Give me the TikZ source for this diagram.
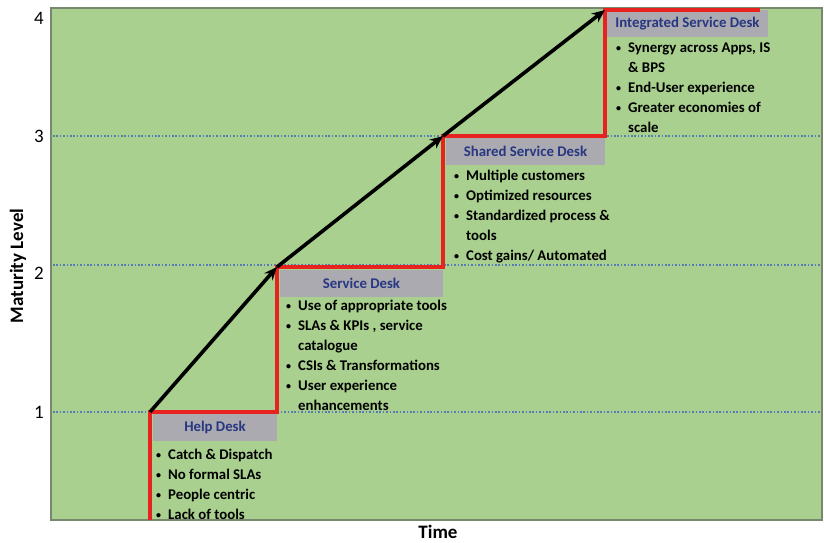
\documentclass[tikz,border=0pt]{standalone}
\usepackage{fontspec}
\setmainfont{Carlito}
\usetikzlibrary{arrows.meta}
\definecolor{plotgreen}{RGB}{169,208,142}
\definecolor{framegray}{RGB}{120,135,110}
\definecolor{stepred}{RGB}{232,34,30}
\definecolor{levelblue}{RGB}{85,125,180}
\definecolor{titlegray}{RGB}{170,170,176}
\definecolor{titleblue}{RGB}{40,55,130}
\tikzset{
  plotarea/.style={fill=plotgreen, draw=framegray, line width=1.4pt},
  levelline/.style={levelblue, line width=2.4pt, dash pattern=on 1.6pt off 1.8pt},
  stepline/.style={stepred, line width=3.2pt},
  growth/.style={black, line width=3.6pt, -{Stealth[length=13pt,width=11pt]}},
  stagetitle/.style={fill=titlegray, text=titleblue, inner sep=0pt, font=\fontsize{14.8}{16}\selectfont\bfseries},
  stagelist/.style={inner sep=0pt, anchor=base west, align=left, font=\fontsize{14.8}{20}\selectfont\bfseries},
  levelnum/.style={font=\fontsize{19}{20}\selectfont},
  axistitle/.style={font=\fontsize{19}{20}\selectfont\bfseries}
}
\newcommand{\stagebullets}[1]{\begin{tabular}[t]{@{}l@{\hspace{7pt}}l@{}}#1\end{tabular}}
\newcommand{\dotmark}{\raisebox{1pt}{\fontsize{10}{10}\selectfont\textbullet}}
\begin{document}
\begin{tikzpicture}[x=1pt,y=-1pt]
\useasboundingbox (0,0) rectangle (824,542);

% plot area
\draw[plotarea] (51,8) rectangle (822,520);

% maturity level guide lines
\foreach \yy in {136,265,412}
  \draw[levelline] (53,\yy) -- (821,\yy);

% level numbers and axis titles
\node[levelnum] (l4) at (39,18) {4};
\node[levelnum] (l3) at (39,136) {3};
\node[levelnum] (l2) at (39,273) {2};
\node[levelnum] (l1) at (39,412) {1};
\node[axistitle, rotate=90] (ylab) at (18,266) {Maturity Level};
\node[axistitle] (xlab) at (438,532) {Time};

% stage title bars
\node[stagetitle, minimum width=124pt, minimum height=27pt] (t1) at (215,427) {Help Desk};
\node[stagetitle, minimum width=163pt, minimum height=27pt] (t2) at (361.5,283) {Service Desk};
\node[stagetitle, minimum width=159pt, minimum height=27pt] (t3) at (525.5,151.5) {Shared Service Desk};
\node[stagetitle, minimum width=161pt, minimum height=27pt] (t4) at (687.5,23.5) {Integrated Service Desk};

% staircase
\coordinate (s0) at (150,520);
\coordinate (c1) at (150,412);
\coordinate (c2) at (277,267);
\coordinate (c3) at (443,136);
\coordinate (c4) at (605,10);
\coordinate (e4) at (760,10);
\draw[stepline] (s0) -- (c1) -| (c2) -| (c3) -| (c4) -- (e4);

% growth arrows
\draw[growth] (c1) -- (c2);
\draw[growth] (c2) -- (c3);
\draw[growth] (c3) -- (c4);

% stage contents
\node[stagelist] (b1) at (156,459) {\stagebullets{%
  \dotmark & Catch \& Dispatch\\
  \dotmark & No formal SLAs\\
  \dotmark & People centric\\
  \dotmark & Lack of tools}};
\node[stagelist] (b2) at (286,310) {\stagebullets{%
  \dotmark & Use of appropriate tools\\
  \dotmark & SLAs \& KPIs , service\\
  & catalogue\\
  \dotmark & CSIs \& Transformations\\
  \dotmark & User experience\\
  & enhancements}};
\node[stagelist] (b3) at (454,180) {\stagebullets{%
  \dotmark & Multiple customers\\
  \dotmark & Optimized resources\\
  \dotmark & Standardized process \&\\
  & tools\\
  \dotmark & Cost gains/ Automated}};
\node[stagelist] (b4) at (616,52) {\stagebullets{%
  \dotmark & Synergy across Apps, IS\\
  & \& BPS\\
  \dotmark & End-User experience\\
  \dotmark & Greater economies of\\
  & scale}};
\end{tikzpicture}
\end{document}
